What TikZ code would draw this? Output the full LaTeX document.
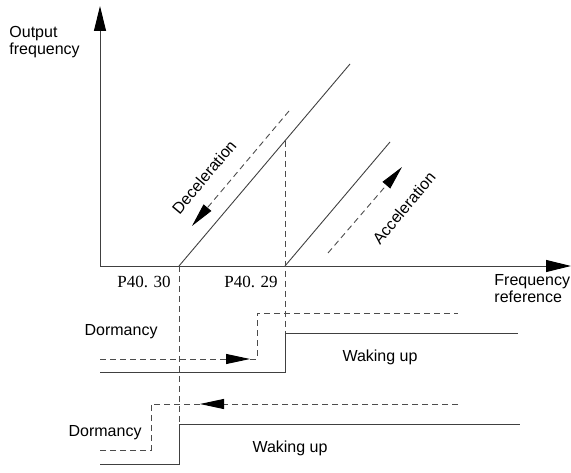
\documentclass[tikz,border=0pt]{standalone}
\usepackage{fontspec}
\setmainfont{Liberation Sans}
\newfontfamily\parfont{Liberation Serif}
\usetikzlibrary{arrows.meta}
\begin{document}
\begin{tikzpicture}[x=1pt,y=-1pt,
  line width=0.9pt,
  solidln/.style={draw=black!75},
  dashln/.style={draw=black!70, dash pattern=on 6pt off 4pt},
  bighead/.style={-{Triangle[length=25pt,width=12pt,color=black]}},
  midhead/.style={-{Triangle[length=24pt,width=10pt,color=black]}},
  lbl/.style={font=\fontsize{16}{17}\selectfont, inner sep=0pt},
  parlbl/.style={font=\parfont\fontsize{17}{18}\selectfont, inner sep=0pt},
]
\useasboundingbox (0,0) rectangle (571,473);

% axes
\coordinate (O) at (100,266);
\coordinate (ytop) at (100,6);
\coordinate (xend) at (571,266);
\draw[solidln, bighead] (O) -- (ytop);
\draw[solidln, bighead] (O) -- (xend);

% thresholds on the frequency axis
\coordinate (f30) at (179,266);
\coordinate (f29) at (285,266);

% ramps
\coordinate (decTop) at (350,64);
\coordinate (decMid) at (285,141);
\coordinate (accTop) at (390,142);
\draw[solidln] (f30) -- (decTop);
\draw[solidln] (f29) -- (accTop);

% direction arrows along the ramps
\coordinate (decA) at (289,111);
\coordinate (decB) at (192,226);
\coordinate (accA) at (328,253);
\coordinate (accB) at (402,167);
\draw[dashln, midhead] (decA) -- (decB);
\draw[dashln, midhead] (accA) -- (accB);

\node[lbl, rotate=50] (dec) at (204,177) {Deceleration};
\node[lbl, rotate=50] (acc) at (404,208) {Acceleration};

% axis labels
\node[lbl, align=left, anchor=west] (ylab) at (9,42) {Output\\frequency};
\node[lbl, align=left, anchor=west] (xlab) at (494,289) {Frequency\\reference};
\node[parlbl] (p30) at (144,282) {P40.\,\,30};
\node[parlbl] (p29) at (251,282) {P40.\,\,29};

% guide lines down from the thresholds
\coordinate (g30) at (179,424);
\coordinate (g29) at (285,333);
\draw[dashln] (f30) -- (g30);
\draw[dashln] (decMid) -- (g29);

% upper state diagram: rising frequency
\coordinate (u1) at (100,359);
\coordinate (u2) at (250,359);
\coordinate (u3) at (257,359);
\coordinate (u4) at (257,313);
\coordinate (u5) at (458,313);
\draw[dashln, midhead] (u1) -- (u2);
\draw[dashln] (u2) -- (u3) -- (u4) -- (u5);
\coordinate (s1) at (100,372);
\coordinate (s2) at (285,372);
\coordinate (s3) at (518,333);
\draw[solidln] (s1) -- (s2) -- (g29) -- (s3);
\node[lbl, anchor=east] (dorm1) at (158,332) {Dormancy};
\node[lbl] (wake1) at (380,357) {Waking up};

% lower state diagram: falling frequency
\coordinate (l1) at (458,404);
\coordinate (l2) at (200,404);
\coordinate (l3) at (151,404);
\coordinate (l4) at (151,450);
\coordinate (l5) at (100,450);
\draw[dashln, midhead] (l1) -- (l2);
\draw[dashln] (l2) -- (l3) -- (l4) -- (l5);
\coordinate (t1) at (100,464);
\coordinate (t2) at (179,464);
\coordinate (t3) at (520,424);
\draw[solidln] (t1) -- (t2) -- (g30) -- (t3);
\node[lbl, anchor=east] (dorm2) at (142,433) {Dormancy};
\node[lbl] (wake2) at (290,448) {Waking up};
\end{tikzpicture}
\end{document}
